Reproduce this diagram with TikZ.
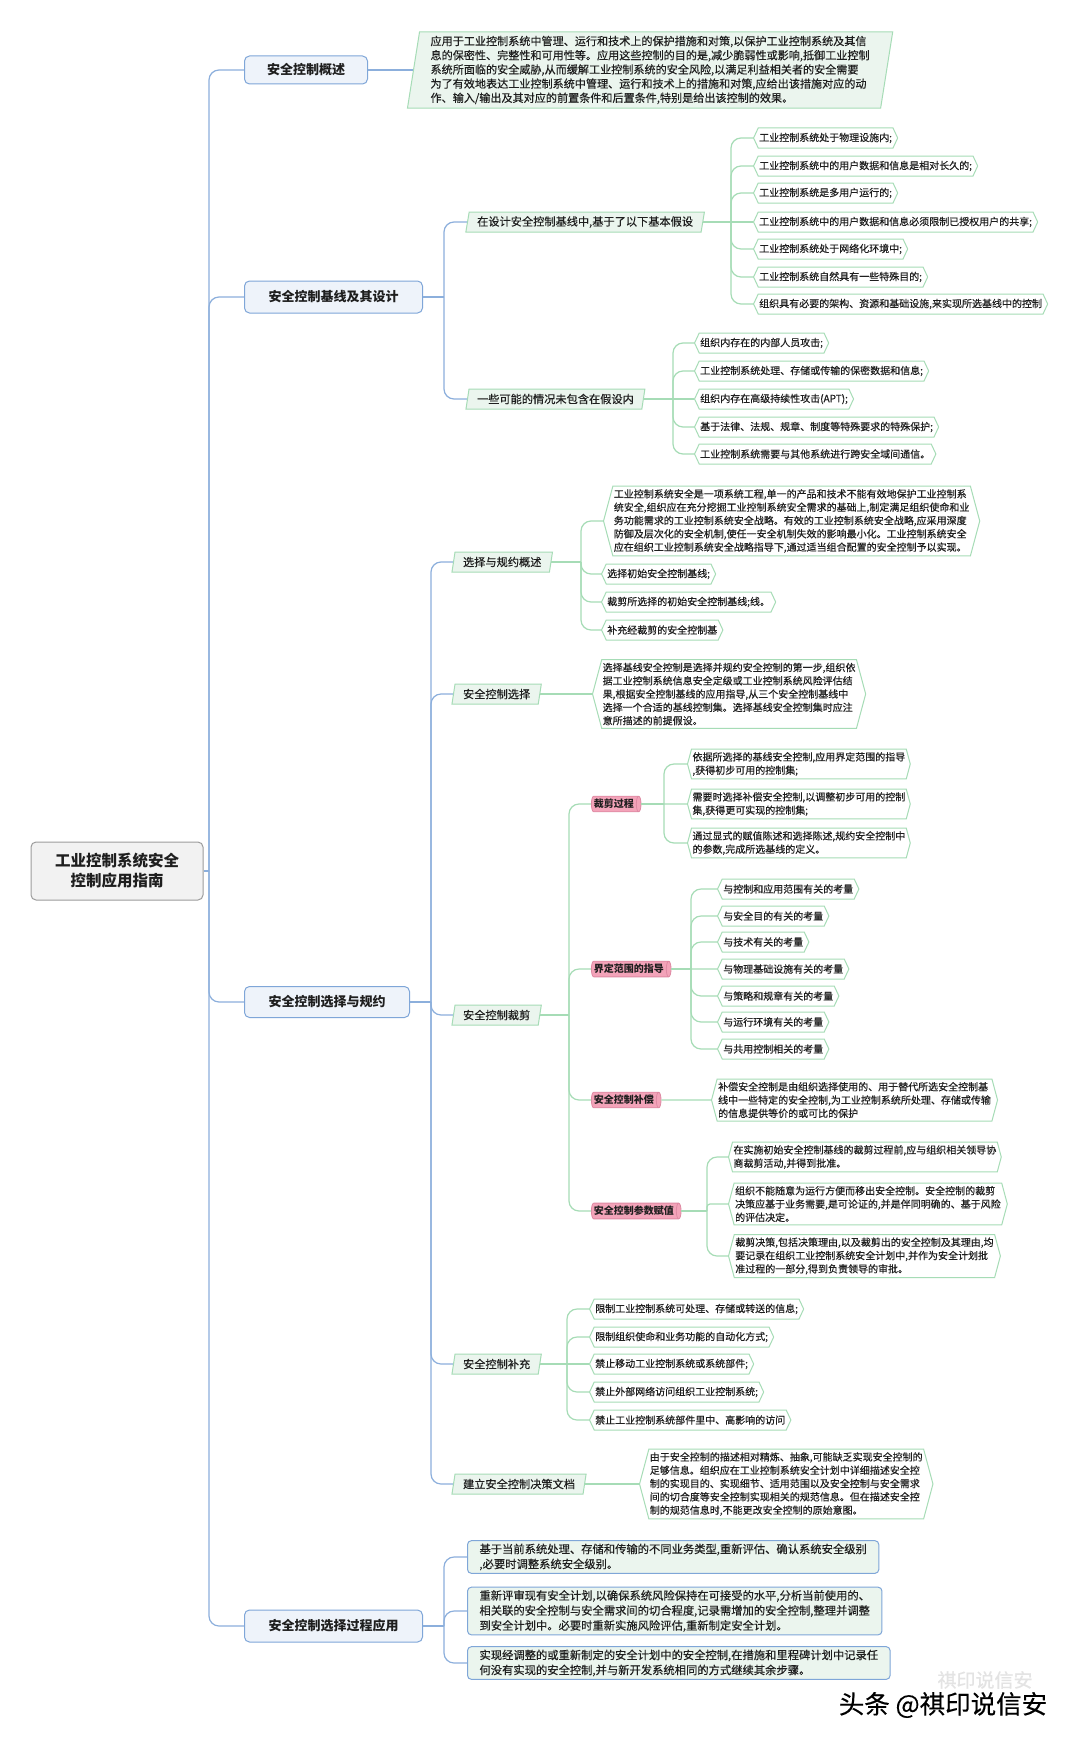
\documentclass[tikz,border=0pt]{standalone}
\usepackage{fontspec}
\setmainfont{Noto Sans CJK SC}[UprightFeatures={FakeBold=0.35}]
\usetikzlibrary{shapes.geometric,shapes.symbols}
\definecolor{txt}{HTML}{1E1E1E}
\definecolor{bline}{HTML}{8CAFDC}
\definecolor{bborder}{HTML}{7FA6D8}
\definecolor{bfill}{HTML}{EEF3FA}
\definecolor{gline}{HTML}{A6DCB6}
\definecolor{gborder}{HTML}{A6DCB6}
\definecolor{gfill}{HTML}{EBF5EE}
\definecolor{pfill}{HTML}{F3A3B9}
\definecolor{pborder}{HTML}{DE8AA3}
\definecolor{rfill}{HTML}{F2F2F2}
\definecolor{rborder}{HTML}{9C9C9C}
\newcommand{\mmbranch}[4]{%
  \coordinate (jj) at (#3,0);
  \draw[#1] (#2.east) -- (#2.east -| jj);
  \foreach \c in {#4}{\draw[#1,rounded corners=10pt] (#2.east -| jj) |- (\c.west);}
}
\begin{document}
\begin{tikzpicture}[x=1pt,y=-1pt,
  every node/.style={text=txt},
  bl/.style={draw=bline,line width=1.2pt},
  gl/.style={draw=gline,line width=1.2pt},
  rootbox/.style={draw=rborder,fill=rfill,rounded corners=5pt,line width=1pt,minimum width=172pt,minimum height=58pt,align=center,font=\fontsize{15.5}{20}\selectfont\bfseries},
  l1/.style={draw=bborder,fill=bfill,rounded corners=5pt,line width=1pt,font=\fontsize{13}{16}\selectfont\bfseries,inner sep=0pt,anchor=west,align=center},
  l2/.style={trapezium,trapezium left angle=78,trapezium right angle=102,trapezium stretches=true,draw=gborder,fill=gfill,line width=1pt,font=\fontsize{11.2}{14}\selectfont,minimum height=20pt,inner xsep=8pt,inner ysep=2pt,anchor=west},
  desc/.style={trapezium,trapezium left angle=81,trapezium right angle=99,trapezium stretches=true,draw=gborder,fill=gfill,line width=1pt,font=\fontsize{11.1}{14.2}\selectfont,align=left,inner xsep=11pt,inner ysep=4pt,anchor=west},
  leaf/.style={signal,signal to=east and west,signal pointer angle=130,draw=gborder,fill=white,line width=1pt,font=\fontsize{10}{13.3}\selectfont,align=left,inner xsep=1pt,inner ysep=2pt,minimum height=20pt,anchor=west},
  mleaf/.style={leaf,signal pointer angle=150,inner ysep=3pt},
  pinkbox/.style={cylinder,shape border rotate=0,aspect=0.3,draw=pborder,fill=pfill,line width=0.8pt,font=\fontsize{10}{12}\selectfont\bfseries,inner xsep=2pt,inner ysep=3pt,anchor=west},
  bitem/.style={draw=bborder,fill=gfill,rounded corners=4pt,line width=1pt,font=\fontsize{11.3}{15}\selectfont,align=left,anchor=west,inner xsep=12pt,inner ysep=3pt}
]
\fill[white] (0,0) rectangle (1080,1742);
\useasboundingbox (0,0) rectangle (1080,1742);

% root and level 1
\node[rootbox] (root) at (117,871) {工业控制系统安全\\控制应用指南};
\node[l1,minimum width=123pt,minimum height=28pt] (A) at (244,70) {安全控制概述};
\node[l1,minimum width=178pt,minimum height=32pt] (B) at (244,297) {安全控制基线及其设计};
\node[l1,minimum width=165pt,minimum height=31pt] (C) at (244,1002) {安全控制选择与规约};
\node[l1,minimum width=178pt,minimum height=32pt] (D) at (244,1626) {安全控制选择过程应用};

% overview
\node[desc] (Ad) at (413,70) {应用于工业控制系统中管理、运行和技术上的保护措施和对策,以保护工业控制系统及其信\\息的保密性、完整性和可用性等。应用这些控制的目的是,减少脆弱性或影响,抵御工业控制\\系统所面临的安全威胁,从而缓解工业控制系统的安全风险,以满足利益相关者的安全需要\\为了有效地表达工业控制系统中管理、运行和技术上的措施和对策,应给出该措施对应的动\\作、输入/输出及其对应的前置条件和后置条件,特别是给出该控制的效果。};

% baseline
\node[l2] (B1) at (467,222) {在设计安全控制基线中,基于了以下基本假设};
\node[l2] (B2) at (467,399) {一些可能的情况未包含在假设内};
\node[leaf] (b11) at (753,138) {工业控制系统处于物理设施内;};
\node[leaf] (b12) at (753,166) {工业控制系统中的用户数据和信息是相对长久的;};
\node[leaf] (b13) at (753,193) {工业控制系统是多用户运行的;};
\node[leaf] (b14) at (753,222) {工业控制系统中的用户数据和信息必须限制已授权用户的共享;};
\node[leaf] (b15) at (753,249) {工业控制系统处于网络化环境中;};
\node[leaf] (b16) at (753,277) {工业控制系统自然具有一些特殊目的;};
\node[leaf] (b17) at (753,304) {组织具有必要的架构、资源和基础设施,来实现所选基线中的控制};
\node[leaf] (b21) at (694,343) {组织内存在的内部人员攻击;};
\node[leaf] (b22) at (694,371) {工业控制系统处理、存储或传输的保密数据和信息;};
\node[leaf] (b23) at (694,399) {组织内存在高级持续性攻击(APT);};
\node[leaf] (b24) at (694,427) {基于法律、法规、规章、制度等特殊要求的特殊保护;};
\node[leaf] (b25) at (694,454) {工业控制系统需要与其他系统进行跨安全域间通信。};

% selection and specification
\node[l2] (C1) at (453,562) {选择与规约概述};
\node[l2] (C2) at (453,694) {安全控制选择};
\node[l2] (C3) at (453,1015) {安全控制裁剪};
\node[l2] (C4) at (453,1364) {安全控制补充};
\node[l2] (C5) at (453,1484) {建立安全控制决策文档};

\node[mleaf] (c11) at (603,521) {工业控制系统安全是一项系统工程,单一的产品和技术不能有效地保护工业控制系\\统安全,组织应在充分挖掘工业控制系统安全需求的基础上,制定满足组织使命和业\\务功能需求的工业控制系统安全战略。有效的工业控制系统安全战略,应采用深度\\防御及层次化的安全机制,使任一安全机制失效的影响最小化。工业控制系统安全\\应在组织工业控制系统安全战略指导下,通过适当组合配置的安全控制予以实现。};
\node[leaf] (c12) at (601,574) {选择初始安全控制基线;};
\node[leaf] (c13) at (601,602) {裁剪所选择的初始安全控制基线;线。};
\node[leaf] (c14) at (601,630) {补充经裁剪的安全控制基};

\node[mleaf] (c21) at (592,694) {选择基线安全控制是选择并规约安全控制的第一步,组织依\\据工业控制系统信息安全定级或工业控制系统风险评估结\\果,根据安全控制基线的应用指导,从三个安全控制基线中\\选择一个合适的基线控制集。选择基线安全控制集时应注\\意所描述的前提假设。};

\node[pinkbox] (p1) at (591,804) {裁剪过程};
\node[pinkbox] (p2) at (591,969) {界定范围的指导};
\node[pinkbox] (p3) at (591,1100) {安全控制补偿};
\node[pinkbox] (p4) at (591,1211) {安全控制参数赋值};

\node[mleaf] (p11) at (687,764) {依据所选择的基线安全控制,应用界定范围的指导\\,获得初步可用的控制集;};
\node[mleaf] (p12) at (687,804) {需要时选择补偿安全控制,以调整初步可用的控制\\集,获得更可实现的控制集;};
\node[mleaf] (p13) at (687,843) {通过显式的赋值陈述和选择陈述,规约安全控制中\\的参数,完成所选基线的定义。};

\node[leaf] (p21) at (717,889) {与控制和应用范围有关的考量};
\node[leaf] (p22) at (717,916) {与安全目的有关的考量};
\node[leaf] (p23) at (717,942) {与技术有关的考量};
\node[leaf] (p24) at (717,969) {与物理基础设施有关的考量};
\node[leaf] (p25) at (717,996) {与策略和规章有关的考量};
\node[leaf] (p26) at (717,1022) {与运行环境有关的考量};
\node[leaf] (p27) at (717,1049) {与共用控制相关的考量};

\node[mleaf] (p31) at (711,1100) {补偿安全控制是由组织选择使用的、用于替代所选安全控制基\\线中一些特定的安全控制,为工业控制系统所处理、存储或传输\\的信息提供等价的或可比的保护};

\node[mleaf] (p41) at (728,1157) {在实施初始安全控制基线的裁剪过程前,应与组织相关领导协\\商裁剪活动,并得到批准。};
\node[mleaf] (p42) at (728,1204) {组织不能随意为运行方便而移出安全控制。安全控制的裁剪\\决策应基于业务需要,是可论证的,并是伴同明确的、基于风险\\的评估决定。};
\node[mleaf] (p43) at (728,1256) {裁剪决策,包括决策理由,以及裁剪出的安全控制及其理由,均\\要记录在组织工业控制系统安全计划中,并作为安全计划批\\准过程的一部分,得到负责领导的审批。};

\node[leaf] (c41) at (589,1309) {限制工业控制系统可处理、存储或转送的信息;};
\node[leaf] (c42) at (589,1337) {限制组织使命和业务功能的自动化方式;};
\node[leaf] (c43) at (589,1364) {禁止移动工业控制系统或系统部件;};
\node[leaf] (c44) at (589,1392) {禁止外部网络访问组织工业控制系统;};
\node[leaf] (c45) at (589,1420) {禁止工业控制系统部件里中、高影响的访问};

\node[mleaf] (c51) at (639,1484) {由于安全控制的描述相对精炼、抽象,可能缺乏实现安全控制的\\足够信息。组织应在工业控制系统安全计划中详细描述安全控\\制的实现目的、实现细节、适用范围以及安全控制与安全需求\\间的切合度等安全控制实现相关的规范信息。但在描述安全控\\制的规范信息时,不能更改安全控制的原始意图。};

% application
\node[bitem] (d1) at (467,1557) {基于当前系统处理、存储和传输的不同业务类型,重新评估、确认系统安全级别\\,必要时调整系统安全级别。};
\node[bitem] (d2) at (467,1611) {重新评审现有安全计划,以确保系统风险保持在可接受的水平,分析当前使用的、\\相关联的安全控制与安全需求间的切合程度,记录需增加的安全控制,整理并调整\\到安全计划中。必要时重新实施风险评估,重新制定安全计划。};
\node[bitem] (d3) at (467,1663) {实现经调整的或重新制定的安全计划中的安全控制,在措施和里程碑计划中记录任\\何没有实现的安全控制,并与新开发系统相同的方式继续其余步骤。};

% watermark
\node[font=\fontsize{19}{19}\selectfont,text=gray!22] (wm0) at (985,1680) {祺印说信安};
\node[font=\fontsize{25.5}{26}\selectfont,text=black] (wm) at (943,1705) {头条 @祺印说信安};

% connectors
\mmbranch{bl}{root}{209}{A,B,C,D}
\draw[bl] (A.east) -- (Ad.west);
\mmbranch{bl}{B}{444}{B1,B2}
\mmbranch{gl}{B1}{731}{b11,b12,b13,b15,b16,b17}
\draw[gl] (B1.east) -- (b14.west);
\mmbranch{gl}{B2}{673}{b21,b22,b24,b25}
\draw[gl] (B2.east) -- (b23.west);
\mmbranch{bl}{C}{431}{C1,C2,C3,C4,C5}
\mmbranch{gl}{C1}{581}{c11,c12,c13,c14}
\draw[gl] (C2.east) -- (c21.west);
\mmbranch{gl}{C3}{569}{p1,p2,p3,p4}
\mmbranch{gl}{p1}{664}{p11,p13}
\draw[gl] (p1.east) -- (p12.west);
\mmbranch{gl}{p2}{691}{p21,p22,p23,p25,p26,p27}
\draw[gl] (p2.east) -- (p24.west);
\draw[gl] (p3.east) -- (p31.west);
\mmbranch{gl}{p4}{707}{p41,p43}
\draw[gl,rounded corners=3pt] (p4.east -| jj) |- (p42.west);
\mmbranch{gl}{C4}{567}{c41,c42,c44,c45}
\draw[gl] (C4.east) -- (c43.west);
\draw[gl] (C5.east) -- (c51.west);
\mmbranch{bl}{D}{444}{d1,d2,d3}
\end{tikzpicture}
\end{document}
